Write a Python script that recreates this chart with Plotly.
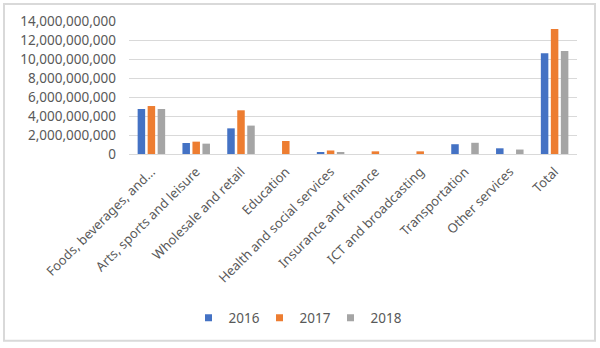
import plotly.graph_objects as go

categories = ["Foods, beverages, and...", "Arts, sports and leisure", "Wholesale and retail",
              "Education", "Health and social services", "Insurance and finance",
              "ICT and broadcasting", "Transportation", "Other services", "Total"]
v2016 = [4.74e9, 1.16e9, 2.70e9, 0, 0.20e9, 0, 0, 1.03e9, 0.60e9, 10.60e9]
v2017 = [5.05e9, 1.30e9, 4.60e9, 1.37e9, 0.37e9, 0.28e9, 0.28e9, 0, 0, 13.16e9]
v2018 = [4.74e9, 1.09e9, 2.99e9, 0, 0.17e9, 0, 0, 1.18e9, 0.47e9, 10.84e9]
series = [("2016", v2016, "#4472C4"), ("2017", v2017, "#ED7D31"), ("2018", v2018, "#A5A5A5")]
y_ticks = [0, 2e9, 4e9, 6e9, 8e9, 10e9, 12e9, 14e9]

FONT = "Noto Sans"
TXT = "#595959"

fig = go.Figure()
for name, vals, col in series:
    fig.add_trace(go.Bar(x=categories, y=vals, name=name, marker_color=col,
                         marker_line_width=0, showlegend=False))
for name, vals, col in series:
    fig.add_trace(go.Scatter(x=[None], y=[None], mode="markers", name=name,
                             marker=dict(symbol="square", size=7, color=col)))

W, H = 600, 348
L, R, T, B = 129, 23, 21, 193.5
pw, ph = W - L - R, H - T - B

def px(x):
    return (x - L) / pw

def py(y):
    return (H - B - y) / ph

fig.update_layout(
    width=W, height=H,
    margin=dict(l=L, r=R, t=T, b=B, pad=0),
    paper_bgcolor="white", plot_bgcolor="white",
    barmode="group", bargap=0.33, bargroupgap=0.25,
    font=dict(family=FONT, size=13, color=TXT),
    xaxis=dict(type="category", tickangle=-45, showgrid=False, ticks="",
               showline=True, linecolor="#d9d9d9", linewidth=1,
               ticklabelstandoff=4,
               tickfont=dict(family=FONT, size=13, color=TXT)),
    yaxis=dict(range=[0, 14e9], tickvals=y_ticks, tickformat=",d",
               showgrid=True, gridcolor="#d9d9d9", gridwidth=1,
               zeroline=False, showline=False, ticks="",
               ticklabelstandoff=12,
               tickfont=dict(family=FONT, size=13.5, color=TXT)),
    legend=dict(orientation="h", x=px(295), xanchor="center", y=py(319), yanchor="middle",
                font=dict(family=FONT, size=13.5, color=TXT), itemwidth=30,
                entrywidth=26, entrywidthmode="pixels",
                bgcolor="rgba(0,0,0,0)"),
    shapes=[dict(type="rect", xref="paper", yref="paper",
                 x0=px(4), x1=px(595), y0=py(342), y1=py(4),
                 line=dict(color="#d9d9d9", width=2), fillcolor="rgba(0,0,0,0)", layer="below")],
)

fig.write_html("out.html")
